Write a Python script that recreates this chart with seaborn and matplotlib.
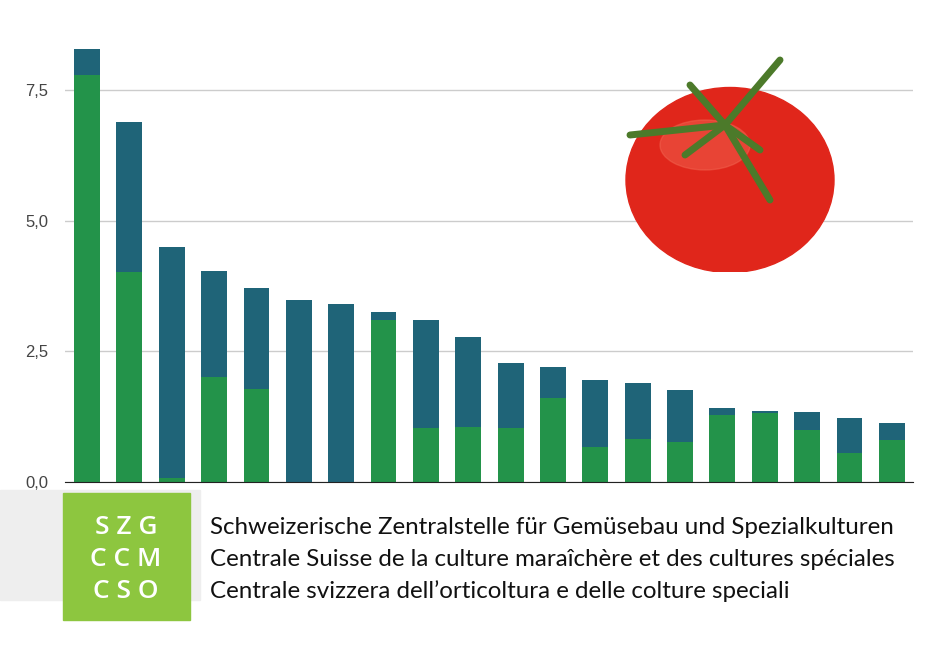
import numpy as np
import pandas as pd
import matplotlib
matplotlib.use("Agg")
import matplotlib.pyplot as plt
import matplotlib.patches as mpatches
import seaborn as sns

# bar categories (no labels shown in the chart)
categories = [f"K{i}" for i in range(1, 21)]
totals = [8.28, 6.89, 4.50, 4.04, 3.71, 3.48, 3.41, 3.25, 3.10, 2.77,
          2.28, 2.20, 1.95, 1.89, 1.76, 1.42, 1.36, 1.34, 1.22, 1.13]
green_part = [7.79, 4.02, 0.08, 2.01, 1.78, 0.0, 0.0, 3.10, 1.03, 1.05,
              1.03, 1.61, 0.67, 0.82, 0.77, 1.28, 1.32, 1.00, 0.55, 0.80]
y_ticks = [0, 2.5, 5.0, 7.5]
y_labels = ["0,0", "2,5", "5,0", "7,5"]
logo_lines = ["S Z G", "C C M", "C S O"]
org_lines = ["Schweizerische Zentralstelle für Gemüsebau und Spezialkulturen",
             "Centrale Suisse de la culture maraîchère et des cultures spéciales",
             "Centrale svizzera dell\u2019orticoltura e delle colture speciali"]

TEAL = "#1f6478"
GREEN = "#23934a"

df = pd.DataFrame({"cat": categories, "total": totals, "green": green_part})

fig = plt.figure(figsize=(9.39, 6.51), dpi=100)
ax = fig.add_axes([65 / 939, 1 - 482 / 651, (913 - 65) / 939, (482 - 40) / 651])

sns.barplot(data=df, x="cat", y="total", color=TEAL, width=0.61, saturation=1, ax=ax)
sns.barplot(data=df, x="cat", y="green", color=GREEN, width=0.61, saturation=1, ax=ax)
for p in ax.patches:
    p.set_edgecolor("none")

ax.set_xlim(-0.52, 19.5)
ax.set_ylim(0, (482 - 40) / 52.27)
ax.set_yticks(y_ticks)
ax.set_yticklabels(y_labels, fontsize=12, color="#444444", family="Liberation Sans")
ax.set_xticks([])
ax.set_xlabel("")
ax.set_ylabel("")
ax.yaxis.grid(True, color="#cccccc", linewidth=1)
ax.set_axisbelow(True)
for s in ["top", "right", "left"]:
    ax.spines[s].set_visible(False)
ax.spines["bottom"].set_color("#222222")
ax.tick_params(axis="y", length=0, pad=12)

# tomato (simplified drawing)
tax = fig.add_axes([615 / 939, 1 - 272 / 651, 230 / 939, 232 / 651])
tax.set_xlim(0, 230)
tax.set_ylim(232, 0)
tax.axis("off")
tax.add_patch(mpatches.Ellipse((115, 140), 208, 185, color="#e0261b"))
tax.add_patch(mpatches.Ellipse((90, 105), 90, 50, color="#f36a55", alpha=0.45))
for dx, dy in [(-95, 10), (55, -65), (45, 75), (-35, -40), (35, 25), (-40, 30)]:
    tax.plot([110, 110 + dx], [85, 85 + dy], color="#4c7a2a", linewidth=5, solid_capstyle="round")

# bottom band and logo
fig.patches.append(mpatches.Rectangle((0, 1 - 600 / 651), 200 / 939, 110 / 651,
                                      transform=fig.transFigure, color="#eeeeee", zorder=0))
fig.patches.append(mpatches.Rectangle((63 / 939, 1 - 620 / 651), 127 / 939, 127 / 651,
                                      transform=fig.transFigure, color="#8dc63f", zorder=1))
for i, t in enumerate(logo_lines):
    fig.text(126 / 939, 1 - (527 + i * 32) / 651, t, ha="center", va="center",
             fontsize=19, color="white", fontweight="semibold", family="Open Sans")
for i, t in enumerate(org_lines):
    fig.text(210 / 939, 1 - (527 + i * 32) / 651, t, ha="left", va="center",
             fontsize=17.4, color="#111111", family="Lato")

fig.savefig("out.png", dpi=100)
